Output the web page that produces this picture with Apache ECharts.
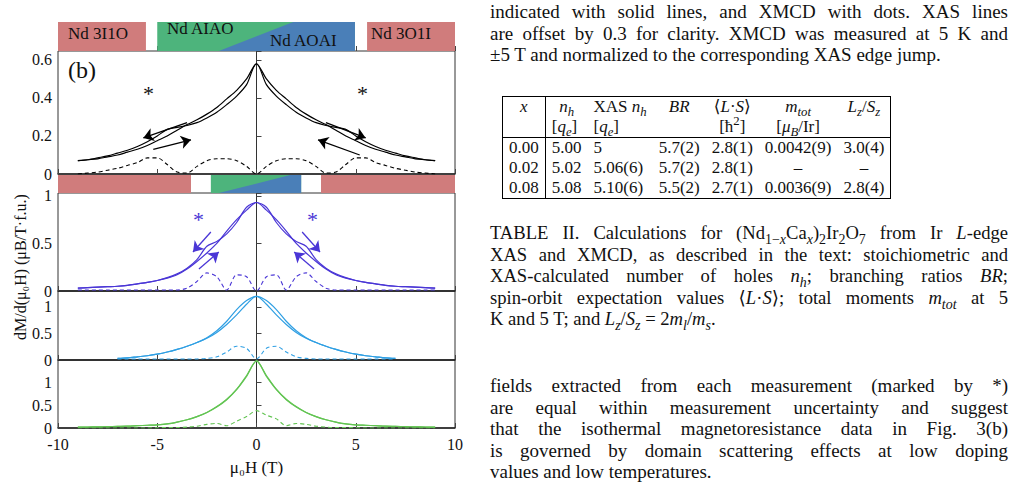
<!DOCTYPE html>
<html><head><meta charset="utf-8">
<script src="https://cdn.jsdelivr.net/npm/echarts@6/dist/echarts.min.js"></script>
<style>
body{margin:0;background:#fff;font-family:"Liberation Serif","DejaVu Serif",serif;}
#chart{position:absolute;left:0;top:0;width:480px;height:493px;}
#txt{position:absolute;left:490px;top:0;width:518px;font-size:19px;color:#111;}
.l{display:block;height:21.5px;line-height:21.5px;text-align:justify;text-align-last:justify;white-space:nowrap;overflow:visible;}
.e{text-align-last:left;}
.l sub,.l sup{line-height:0;font-size:75%;}
table{position:absolute;left:12px;top:96px;border-collapse:collapse;font-size:17px;border:1px solid #000;}
td{padding:0 6px;height:20px;line-height:20px;white-space:nowrap;}
td sub,td sup{line-height:0;font-size:75%;}
.bl{border-left:1px solid #000;}
.c{text-align:center}
</style></head><body>
<div id="chart"></div>
<div id="txt">
<div style="position:absolute;top:1px;width:518px">
<span class="l">indicated with solid lines, and XMCD with dots. XAS lines</span>
<span class="l">are offset by 0.3 for clarity. XMCD was measured at 5 K and</span>
<span class="l e">±5 T and normalized to the corresponding XAS edge jump.</span>
</div>
<table>
<tr><td class="c"><i>x</i></td><td class="bl c"><i>n<sub>h</sub></i></td><td class="c">XAS <i>n<sub>h</sub></i></td><td class="c"><i>BR</i></td><td class="c">⟨<i>L</i>·<i>S</i>⟩</td><td class="c"><i>m<sub>tot</sub></i></td><td class="c"><i>L<sub>z</sub></i>/<i>S<sub>z</sub></i></td></tr>
<tr style="border-bottom:1px solid #000"><td></td><td class="bl">[<i>q<sub>e</sub></i>]</td><td>[<i>q<sub>e</sub></i>]</td><td></td><td class="c">[ħ<sup>2</sup>]</td><td class="c">[<i>μ<sub>B</sub></i>/Ir]</td><td></td></tr>
<tr><td>0.00</td><td class="bl">5.00</td><td>5</td><td>5.7(2)</td><td>2.8(1)</td><td>0.0042(9)</td><td>3.0(4)</td></tr>
<tr><td>0.02</td><td class="bl">5.02</td><td>5.06(6)</td><td>5.7(2)</td><td>2.8(1)</td><td class="c">–</td><td class="c">–</td></tr>
<tr><td>0.08</td><td class="bl">5.08</td><td>5.10(6)</td><td>5.5(2)</td><td>2.7(1)</td><td>0.0036(9)</td><td>2.8(4)</td></tr>
</table>
<div style="position:absolute;top:222px;width:518px;font-size:18.6px">
<span class="l">TABLE II. Calculations for (Nd<sub>1−<i>x</i></sub>Ca<sub><i>x</i></sub>)<sub>2</sub>Ir<sub>2</sub>O<sub>7</sub> from Ir <i>L</i>-edge</span>
<span class="l">XAS and XMCD, as described in the text: stoichiometric and</span>
<span class="l">XAS-calculated number of holes <i>n<sub>h</sub></i>; branching ratios <i>BR</i>;</span>
<span class="l">spin-orbit expectation values ⟨<i>L</i>·<i>S</i>⟩; total moments <i>m<sub>tot</sub></i> at 5</span>
<span class="l e">K and 5 T; and <i>L<sub>z</sub></i>/<i>S<sub>z</sub></i> = 2<i>m<sub>l</sub></i>/<i>m<sub>s</sub></i>.</span>
</div>
<div style="position:absolute;top:375px;width:518px">
<span class="l">fields extracted from each measurement (marked by *)</span>
<span class="l">are equal within measurement uncertainty and suggest</span>
<span class="l">that the isothermal magnetoresistance data in Fig. 3(b)</span>
<span class="l">is governed by domain scattering effects at low doping</span>
<span class="l e">values and low temperatures.</span>
</div>
</div>
<script>
var XS = [-9,-8.5,-8,-7.5,-7,-6.5,-6,-5.5,-5,-4.5,-4,-3.5,-3,-2.5,-2,-1.5,-1,-0.5,0,0.5,1,1.5,2,2.5,3,3.5,4,4.5,5,5.5,6,6.5,7,7.5,8,8.5,9];
var XS3 = [-7,-6.5,-6,-5.5,-5,-4.5,-4,-3.5,-3,-2.5,-2,-1.5,-1,-0.5,0,0.5,1,1.5,2,2.5,3,3.5,4,4.5,5,5.5,6,6.5,7];
var p1Down = [.07,.075,.085,.095,.11,.125,.145,.17,.2,.235,.245,.255,.27,.295,.325,.365,.41,.47,.58,.50,.44,.395,.35,.315,.285,.26,.23,.2,.175,.15,.13,.115,.10,.09,.08,.075,.07];
var p1Xmcd = [0,.005,.01,.02,.03,.045,.06,.085,.085,.05,.01,.005,.04,.07,.08,.08,.07,.04,0,.04,.07,.08,.08,.07,.04,.005,.01,.05,.085,.085,.06,.045,.03,.02,.01,.005,0];
var p2Down = [.03,.035,.04,.045,.05,.06,.075,.09,.11,.14,.18,.24,.33,.47,.52,.60,.72,.88,.93,.85,.75,.63,.50,.40,.31,.23,.17,.135,.11,.09,.075,.06,.05,.045,.04,.035,.03];
var p2Xmcd = [.01,.01,.01,.01,.01,.01,.01,.01,.01,.01,.01,.03,.1,.19,.15,.01,.17,.15,0,.15,.17,.01,.15,.19,.1,.03,.01,.01,.01,.01,.01,.01,.01,.01,.01,.01,.01];
var p3Down = [.03,.04,.06,.08,.11,.15,.2,.26,.33,.41,.52,.67,.85,1.05,1.2,1.12,.95,.73,.55,.42,.33,.26,.2,.15,.11,.08,.06,.04,.03];
var p3Xmcd = [.02,.02,.02,.02,.02,.02,.02,.02,.02,.03,.06,.15,.26,.22,.02,.22,.26,.15,.06,.03,.02,.02,.02,.02,.02,.02,.02,.02,.02];
var p4Down = [.02,.022,.025,.03,.035,.04,.05,.06,.07,.09,.13,.18,.25,.34,.47,.63,.85,1.15,1.47,1.13,.84,.62,.46,.34,.25,.18,.13,.09,.07,.06,.05,.04,.035,.03,.025,.022,.02];
var p4Xmcd = [0,0,0,0,0,0,0,0,.005,.01,.01,.02,.04,.08,.1,.05,.15,.25,.38,.28,.2,.05,.1,.08,.04,.02,.01,.01,.005,0,0,0,0,0,0,0,0];
// band segments: [start, end, kind, diagonal bottom x, diagonal top x]
var band1 = [[-10,-5.57,'p'],[-5.0,4.96,'gb',-1.9,1.85],[5.57,10,'p']];
var band2 = [[-10,-3.3,'p'],[-2.3,2.25,'gb',-1.9,1.7],[3.25,10,'p']];

var PINK='#d07c7c', GREEN='#4db47c', BLUE='#4a7fb8';
var C1='#000', C2='#4a36d6', C3='#2f9fe3', C4='#62c452';
var font='"Liberation Serif","DejaVu Serif",serif';
function zip(x,y){return x.map(function(v,i){return [v,y[i]];});}
function rev(x,y){return x.map(function(v,i){return [v,y[y.length-1-i]];});}

var tops=[22,51,175,193,291,360], hs=[29,123,18,98,69,68];
var ymax=[1,0.647,1,1.03,1.3,1.49];
var grids=[],xAxes=[],yAxes=[];
function labelFmt(step){return function(v){var q=v/step;if(Math.abs(q-Math.round(q))>0.01)return '';return String(Math.round(v*10)/10);};}
for(var i=0;i<6;i++){
  var isBand=(i==0||i==2);
  var step=i==1?0.2:0.5;
  grids.push({left:58,width:397,top:tops[i],height:hs[i],show:!isBand,borderColor:'#333',borderWidth:1});
  xAxes.push({gridIndex:i,type:'value',min:-10,max:10,interval:5,
    axisLine:{show:!isBand,onZero:false,lineStyle:{color:'#222',width:1.5}},
    axisTick:{show:!isBand||i==0,inside:true,length:5,lineStyle:{color:'#444'}},
    axisLabel:{show:i==5,color:'#111',fontFamily:font,fontSize:16},
    splitLine:{show:false},
    name:i==5?'μ₀H (T)':'',nameLocation:'middle',nameGap:31,nameTextStyle:{fontFamily:font,fontSize:17,color:'#111'}});
  yAxes.push({gridIndex:i,type:'value',min:0,max:ymax[i],
    interval:step,show:!isBand,
    axisLine:{show:true,lineStyle:{color:'#333'}},
    axisTick:{show:true,inside:true,length:5,lineStyle:{color:'#444'}},
    axisLabel:{color:'#111',fontFamily:font,fontSize:16,margin:6,formatter:labelFmt(step)},
    splitLine:{show:false}});
}

function bandSeries(idx,segs){
  return {type:'custom',xAxisIndex:idx,yAxisIndex:idx,silent:true,z:1,data:segs.map(function(s,k){return [k];}),
    renderItem:function(params,api){
      var s=segs[params.dataIndex];
      var a=api.coord([s[0],0]),b=api.coord([s[1],1]);
      var ch=[{type:'rect',shape:{x:a[0],y:b[1],width:b[0]-a[0],height:a[1]-b[1]},style:{fill:s[2]=='p'?PINK:GREEN}}];
      if(s[2]=='gb'){
        var d0=api.coord([s[3],0]),d1=api.coord([s[4],1]);
        ch.push({type:'polygon',shape:{points:[[d0[0],a[1]],[d1[0],b[1]],[b[0],b[1]],[b[0],a[1]]]},style:{fill:BLUE}});
      }
      return {type:'group',children:ch};
    }};
}
function solid(idx,x,y,c,mirror,extra){
  var o={type:'line',xAxisIndex:idx,yAxisIndex:idx,data:mirror?rev(x,y):zip(x,y),showSymbol:false,symbol:'none',
    lineStyle:{color:c,width:1.2},itemStyle:{color:c},smooth:0.3,silent:true,z:3};
  if(extra)o.markLine=extra;
  return o;
}
function dashed(idx,x,y,c){
  return {type:'line',xAxisIndex:idx,yAxisIndex:idx,data:zip(x,y),symbol:'none',smooth:0.3,silent:true,
    lineStyle:{color:c,width:1.1,type:[4,3]}};
}
function arrows(c,list){
  return {silent:true,animation:false,symbol:['none','arrow'],symbolSize:10,label:{show:false},
    lineStyle:{color:c,width:1.3,type:'solid'},itemStyle:{color:c},
    data:list.map(function(p){return [{coord:p[0]},{coord:p[1]}];})};
}

var chart=echarts.init(document.getElementById('chart'),null,{renderer:'svg'});
chart.setOption({
  animation:false,
  grid:grids,xAxis:xAxes,yAxis:yAxes,
  series:[
    bandSeries(0,band1),bandSeries(2,band2),
    solid(1,XS,p1Down,C1,false,arrows(C1,[[[-3.5,0.27],[-5.7,0.19]],[[-5.2,0.13],[-3.3,0.18]],[[3.5,0.27],[5.5,0.19]],[[5.2,0.1],[3.1,0.18]]])),
    solid(1,XS,p1Down,C1,true),
    dashed(1,XS,p1Xmcd,C1),
    solid(3,XS,p2Down,C2,false,arrows(C2,[[[-2.3,0.62],[-3.2,0.41]],[[-2.9,0.23],[-1.9,0.41]],[[2.3,0.62],[3.2,0.41]],[[2.9,0.23],[1.9,0.41]]])),
    solid(3,XS,p2Down,C2,true),
    dashed(3,XS,p2Xmcd,C2),
    solid(4,XS3,p3Down,C3,false),
    solid(4,XS3,p3Down,C3,true),
    dashed(4,XS3,p3Xmcd,C3),
    solid(5,XS,p4Down,C4,false),
    solid(5,XS,p4Down,C4,true),
    dashed(5,XS,p4Xmcd,C4)
  ],
  graphic:[
    {type:'text',z:100,left:68,top:25,style:{text:'Nd 3I1O',font:'17px '+font,fill:'#111'}},
    {type:'text',z:100,left:167,top:20,style:{text:'Nd AIAO',font:'17px '+font,fill:'#111'}},
    {type:'text',z:100,left:270,top:32,style:{text:'Nd AOAI',font:'17px '+font,fill:'#111'}},
    {type:'text',z:100,left:371,top:25,style:{text:'Nd 3O1I',font:'17px '+font,fill:'#111'}},
    {type:'text',z:100,left:68,top:58,style:{text:'(b)',font:'24px '+font,fill:'#111'}},
    {type:'text',z:100,left:143,top:82,style:{text:'*',font:'22px '+font,fill:'#111'}},
    {type:'text',z:100,left:357,top:82,style:{text:'*',font:'22px '+font,fill:'#111'}},
    {type:'text',z:100,left:193,top:208,style:{text:'*',font:'22px '+font,fill:C2}},
    {type:'text',z:100,left:307,top:208,style:{text:'*',font:'22px '+font,fill:C2}},
    {type:'text',z:100,x:12,y:340,rotation:Math.PI/2,style:{text:'dM/d(μ₀H) (μB/T·f.u.)',font:'16px '+font,fill:'#111'}}
  ]
});
</script></body></html>
